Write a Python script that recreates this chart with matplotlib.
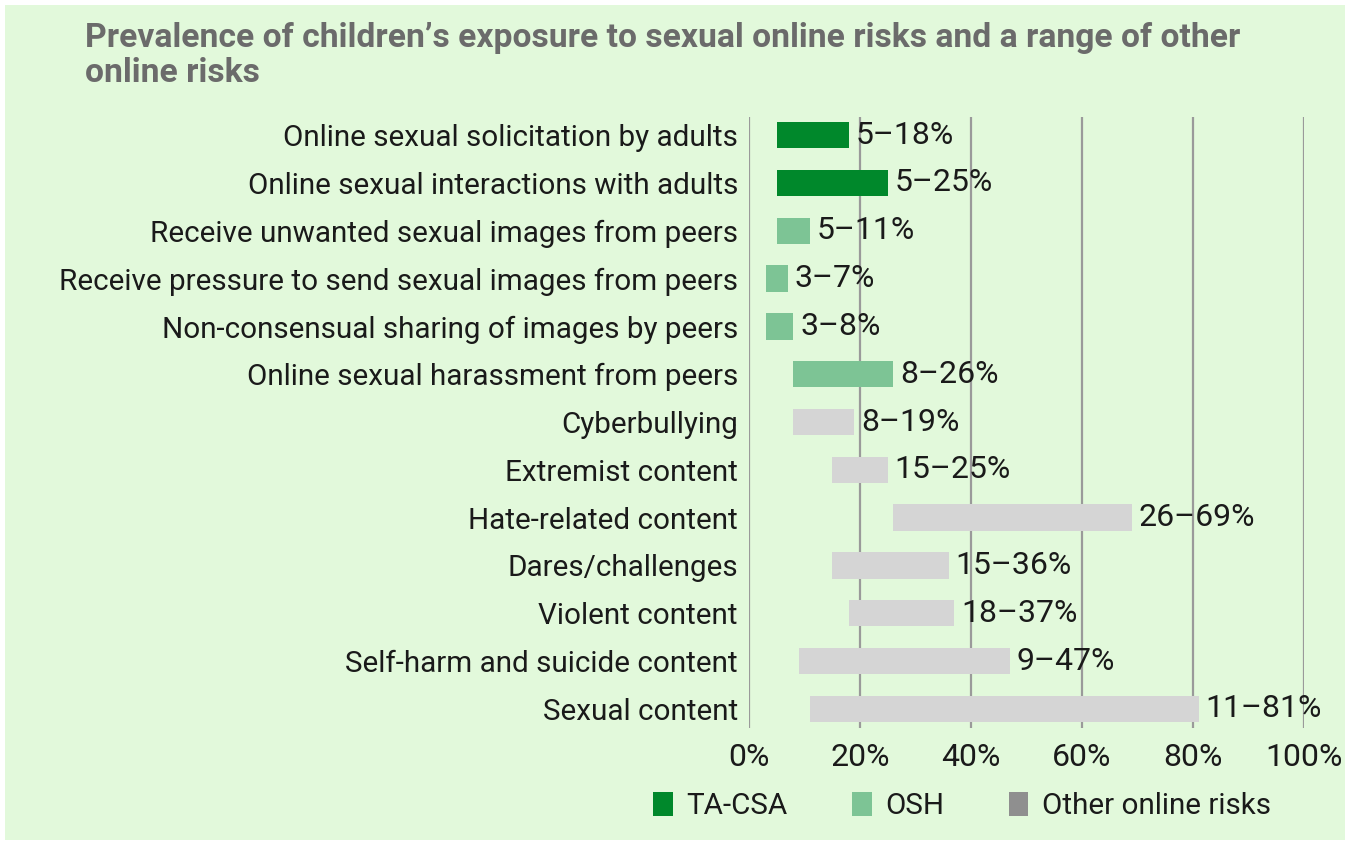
import matplotlib
matplotlib.use("Agg")
import matplotlib.pyplot as plt
from matplotlib.patches import Patch, Rectangle

categories = [
    "Online sexual solicitation by adults",
    "Online sexual interactions with adults",
    "Receive unwanted sexual images from peers",
    "Receive pressure to send sexual images from peers",
    "Non-consensual sharing of images by peers",
    "Online sexual harassment from peers",
    "Cyberbullying",
    "Extremist content",
    "Hate-related content",
    "Dares/challenges",
    "Violent content",
    "Self-harm and suicide content",
    "Sexual content",
]
low = [5, 5, 5, 3, 3, 8, 8, 15, 26, 15, 18, 9, 11]
high = [18, 25, 11, 7, 8, 26, 19, 25, 69, 36, 37, 47, 81]
groups = ["TA-CSA", "TA-CSA", "OSH", "OSH", "OSH", "OSH",
          "Other", "Other", "Other", "Other", "Other", "Other", "Other"]
xticks = [0, 20, 40, 60, 80, 100]
legend_labels = ["TA-CSA", "OSH", "Other online risks"]

bar_colors = {"TA-CSA": "#00882B", "OSH": "#7DC495", "Other": "#D5D5D5"}
legend_colors = ["#00882B", "#7DC495", "#8F8F8F"]
bg = "#E2F9DB"
txt = "#1a1a1a"

FONT = ["Roboto", "DejaVu Sans"]
plt.rcParams["font.family"] = FONT
FS_TEXT = 21.3
FS_NUM = 23

W, H = 1349, 844
fig = plt.figure(figsize=(W / 100, H / 100), dpi=100)
fig.patch.set_facecolor("white")
fig.patches.append(Rectangle((5 / W, 4 / H), (W - 9) / W, (H - 9) / H,
                             transform=fig.transFigure, facecolor=bg,
                             edgecolor="none", zorder=-10))

ax = fig.add_axes([749 / W, 1 - 728 / H, (1304 - 749) / W, (728 - 117) / H])
ax.set_facecolor("none")

ys = list(range(len(categories)))
for y, lo, hi, g in zip(ys, low, high, groups):
    ax.barh(y, hi - lo, left=lo, height=0.55, color=bar_colors[g], zorder=3)
    ax.text(hi + 1.2, y, f"{lo}\u2013{hi}%", va="center", ha="left",
            fontsize=FS_NUM, color=txt, zorder=4)

ax.set_xlim(0, 100)
ax.set_ylim(len(categories) - 1 + 0.4, -0.38)
ax.set_yticks(ys)
ax.set_yticklabels(categories, fontsize=FS_TEXT, color=txt)
ax.set_xticks(xticks)
ax.set_xticklabels([f"{t}%" for t in xticks], fontsize=FS_NUM, color=txt)
ax.tick_params(axis="both", length=0)
ax.tick_params(axis="y", pad=8)
ax.tick_params(axis="x", pad=11)
for s in ax.spines.values():
    s.set_visible(False)
for t in xticks:
    ax.axvline(t, color="#9A9A9A", lw=1.6, zorder=1)

handles = [Patch(facecolor=c, edgecolor="none") for c in legend_colors]
fig.legend(handles, legend_labels, loc="center", bbox_to_anchor=(962 / W, 1 - 806 / H),
           ncol=3, frameon=False, fontsize=FS_TEXT, handlelength=0.65, handleheight=0.9,
           handletextpad=0.45, columnspacing=2.2, labelcolor=txt)

fig.text(85 / W, 1 - 55.5 / H, "Prevalence of children\u2019s exposure to sexual online risks and a range of other\nonline risks",
         ha="left", va="center", fontsize=24.2, fontweight="bold", color="#6B6B6B",
         linespacing=1.12)
fig.savefig("out.png", dpi=100, facecolor=fig.get_facecolor())
